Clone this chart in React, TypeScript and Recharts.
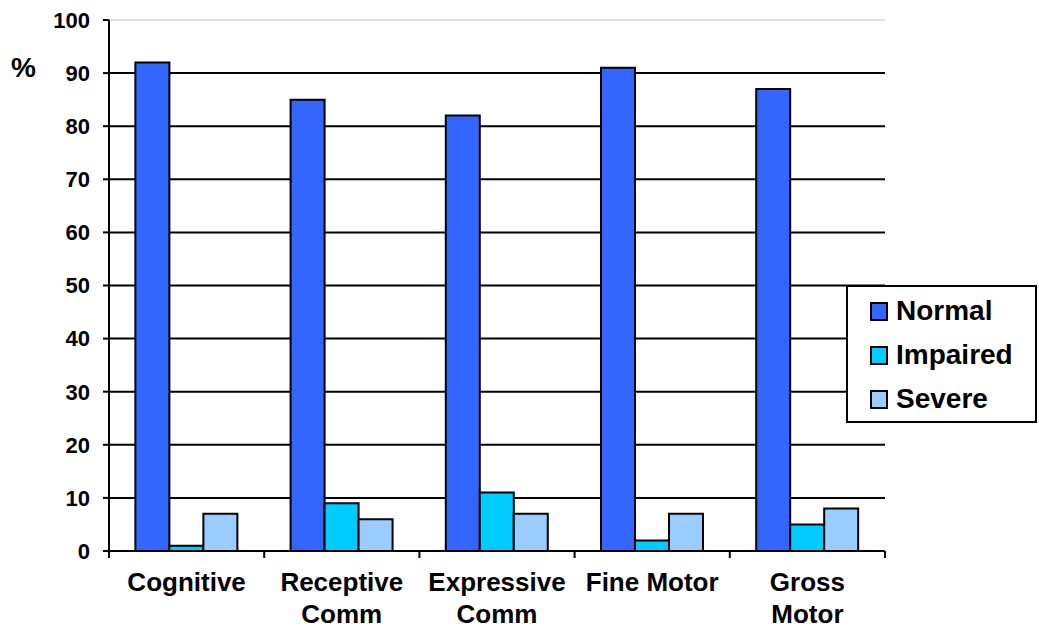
import React from 'react';
import { BarChart, Bar, XAxis, YAxis, CartesianGrid, ReferenceLine, Legend } from 'recharts';

const categories = ['Cognitive', 'Receptive Comm', 'Expressive Comm', 'Fine Motor', 'Gross Motor'];
const tickLines: Record<string, string[]> = {
    'Cognitive': ['Cognitive'],
    'Receptive Comm': ['Receptive', 'Comm'],
    'Expressive Comm': ['Expressive', 'Comm'],
    'Fine Motor': ['Fine Motor'],
    'Gross Motor': ['Gross', 'Motor'],
};
const normal = [92, 85, 82, 91, 87];
const impaired = [1, 9, 11, 2, 5];
const severe = [7, 6, 7, 7, 8];
const yTicks = [0, 10, 20, 30, 40, 50, 60, 70, 80, 90, 100];
const gridValues = [10, 20, 30, 40, 50, 60, 70, 80, 90];

const series = [
    { key: 'Normal', color: '#3366FF', values: normal },
    { key: 'Impaired', color: '#00CCFF', values: impaired },
    { key: 'Severe', color: '#99CCFF', values: severe },
];

const data = categories.map((name, i) => {
    const row: Record<string, string | number> = { name };
    series.forEach(s => { row[s.key] = s.values[i]; });
    return row;
});

const FONT = '"Liberation Sans", Arial, sans-serif';

// category label plus the boundary tick marks below the axis
const CategoryTick = (props: any) => {
    const { x, y, payload, index, width, visibleTicksCount } = props;
    const band = width / visibleTicksCount;
    const lines = tickLines[payload.value] || [payload.value];
    return (
        <g>
            <line x1={x - band / 2} x2={x - band / 2} y1={y} y2={y + 7} stroke="#000" strokeWidth={2} />
            {index === visibleTicksCount - 1 && (
                <line x1={x + band / 2} x2={x + band / 2} y1={y} y2={y + 7} stroke="#000" strokeWidth={2} />
            )}
            <text x={x} y={y + 40} textAnchor="middle" fontFamily={FONT} fontWeight="bold" fontSize={26} fill="#000">
                {lines.map((l, i) => (
                    <tspan key={i} x={x} dy={i === 0 ? 0 : 32}>{l}</tspan>
                ))}
            </text>
        </g>
    );
};

// zero-height wrapper so the legend takes no room from the plot
const LegendBox = () => (
    <div style={{ height: 0, overflow: 'visible' }}>
        <div style={{
            border: '2px solid #000', background: '#fff', width: 187, height: 134,
            boxSizing: 'content-box', fontFamily: FONT, fontWeight: 'bold', fontSize: 28, textAlign: 'left',
        }}>
            {series.map((s, i) => (
                <div key={s.key} style={{ display: 'flex', alignItems: 'center', height: 44, marginTop: i === 0 ? 2 : 0, paddingLeft: 22 }}>
                    <span style={{ display: 'inline-block', width: 14, height: 15, background: s.color, border: '2px solid #000', marginRight: 8 }} />
                    <span>{s.key}</span>
                </div>
            ))}
        </div>
    </div>
);

export default function App() {
    return (
        <div style={{ position: 'absolute', left: 0, top: 0, background: '#fff' }}>
            <BarChart
                width={1039}
                height={637}
                data={data}
                margin={{ top: 20, right: 154, bottom: 56, left: 0 }}
                barCategoryGap="17%"
                barGap={0}
            >
                <CartesianGrid vertical={false} horizontalValues={gridValues} stroke="#000" strokeWidth={2} />
                <ReferenceLine y={100} stroke="#bbbbbb" strokeWidth={1} />
                <XAxis
                    dataKey="name"
                    height={30}
                    axisLine={{ stroke: '#000', strokeWidth: 2 }}
                    tickLine={false}
                    tickSize={0}
                    tickMargin={0}
                    interval={0}
                    tick={<CategoryTick />}
                />
                <YAxis
                    width={109}
                    domain={[0, 100]}
                    ticks={yTicks}
                    interval={0}
                    axisLine={{ stroke: '#000', strokeWidth: 2 }}
                    tickLine={{ stroke: '#000', strokeWidth: 2 }}
                    tickSize={6}
                    tickMargin={13}
                    tick={{ fontFamily: FONT, fontWeight: 'bold', fontSize: 22, fill: '#000' }}
                    label={{
                        content: () => (
                            <text x={11} y={77} fontFamily={FONT} fontWeight="bold" fontSize={28} fill="#000">%</text>
                        ),
                    }}
                />
                <Legend
                    content={<LegendBox />}
                    wrapperStyle={{ position: 'absolute', left: 846, top: 285, width: 'auto', height: 0 }}
                />
                {series.map(s => (
                    <Bar key={s.key} dataKey={s.key} fill={s.color} stroke="#000" strokeWidth={2} isAnimationActive={false} />
                ))}
            </BarChart>
        </div>
    );
}
